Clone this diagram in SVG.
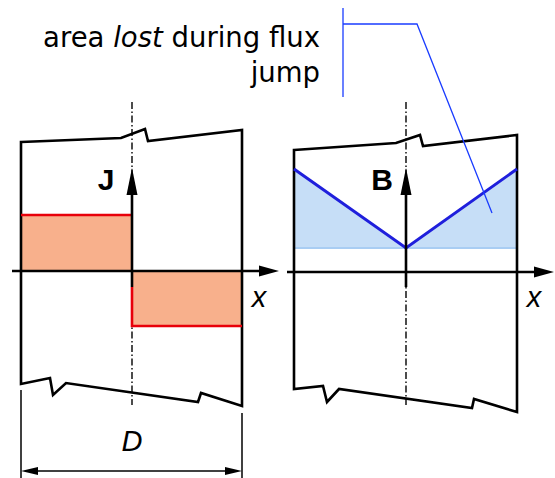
<svg xmlns="http://www.w3.org/2000/svg" width="555" height="478" viewBox="0 0 555 478">
<defs>
<style>
.outline{fill:none;stroke:#000;stroke-width:2.6;stroke-linejoin:miter}
.axis{fill:none;stroke:#000;stroke-width:2.6}
.cl{fill:none;stroke:#000;stroke-width:1.4;stroke-dasharray:7 2.5 1.5 2.5}
.red{fill:none;stroke:#e8000a;stroke-width:2.6}
.sal{fill:#f8b08c;stroke:none}
.bfill{fill:#c6def7;stroke:none}
.bline{fill:none;stroke:#1f1fdc;stroke-width:3;stroke-linejoin:miter}
.lead{fill:none;stroke:#1a3cff;stroke-width:1.3}
.dim{fill:none;stroke:#000;stroke-width:1.5}
.ah{fill:#000;stroke:none}
.lbl{font-family:"Liberation Sans",Arial,sans-serif;fill:#000}
.b{font-weight:bold;font-size:30px}
.i{font-style:italic;font-size:29px}
.note{font-family:"DejaVu Sans",Verdana,sans-serif;font-size:27.5px;fill:#000}
</style>
</defs>
<g id="annotation">
<text class="note" x="320" y="47" text-anchor="end">area <tspan font-style="italic">lost</tspan> during flux</text>
<text class="note" x="320" y="82" text-anchor="end">jump</text>
</g>
<g id="panel-J">
<rect class="sal" x="21" y="215" width="111" height="56"/>
<rect class="sal" x="132" y="271" width="110" height="55"/>
<line class="cl" x1="132" y1="102" x2="132" y2="405"/>
<path class="outline" d="M21,142 L121,138 L145,129 L148,141 L242,130 L242,406 L201,393 L198,402 L66,383 L53,395 L50,378 L21,384 Z"/>
<path class="red" d="M21,215 H132"/>
<path class="red" d="M132,287 V326 H242"/>
<line class="axis" x1="12" y1="271" x2="262" y2="271"/>
<polygon class="ah" points="279,271 259,265.5 259,276.5"/>
<line class="axis" x1="132" y1="287" x2="132" y2="190"/>
<polygon class="ah" points="132,168 126.5,195 137.5,195"/>
<text class="lbl b" x="106" y="190" text-anchor="middle">J</text>
<text class="lbl i" x="259" y="307" text-anchor="middle">x</text>
</g>
<g id="panel-B">
<polygon class="bfill" points="294,169 406,248 517,169 517,248 294,248"/>
<line x1="294" y1="248" x2="517" y2="248" stroke="#a9cdf3" stroke-width="2"/>
<line class="cl" x1="406" y1="102" x2="406" y2="405"/>
<path class="outline" d="M294,150 L396,143 L420,135 L423,146 L517,135 L517,412 L474,399 L472,408 L339,389 L327,402 L323,386 L294,389 Z"/>
<polyline class="bline" points="294,169 406,248 517,169"/>
<line class="axis" x1="287" y1="272" x2="536" y2="272"/>
<polygon class="ah" points="554,272 534,266.5 534,277.5"/>
<line class="axis" x1="406" y1="287" x2="406" y2="190"/>
<polygon class="ah" points="406,168 400.5,195 411.5,195"/>
<text class="lbl b" x="382" y="190" text-anchor="middle">B</text>
<text class="lbl i" x="534" y="307" text-anchor="middle">x</text>
</g>
<g id="dimension-D">
<line class="dim" x1="21" y1="390" x2="21" y2="478"/>
<line class="dim" x1="242" y1="413" x2="242" y2="478"/>
<line class="dim" x1="36" y1="471" x2="227" y2="471"/>
<polygon class="ah" points="21,471 38,467 38,475"/>
<polygon class="ah" points="242,471 225,467 225,475"/>
<text class="lbl i" x="132" y="451" text-anchor="middle">D</text>
</g>
<g id="connectors">
<path class="lead" d="M343,8 V97"/>
<path class="lead" d="M343,24 H417 L492,213"/>
</g>
</svg>
